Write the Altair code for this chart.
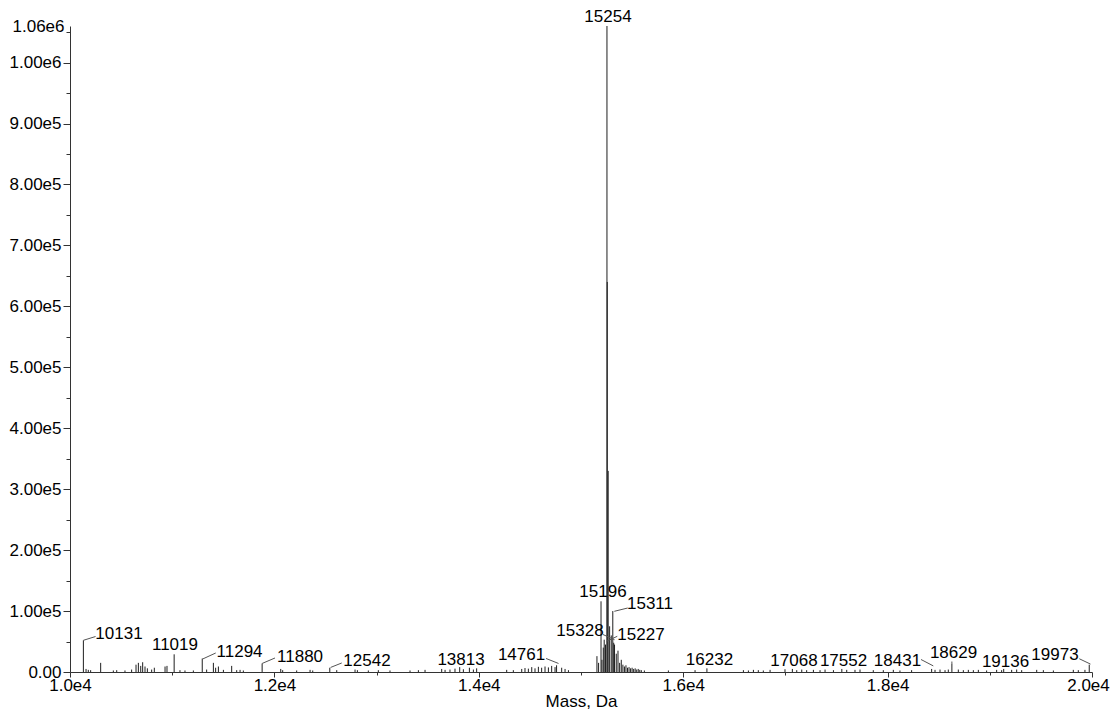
import altair as alt
import pandas as pd

# ---- spectrum peaks (mass in Da, intensity in counts) ----
peak_mass = [
    10131, 10157, 10179, 10202, 10300, 10424, 10457, 10538, 10603, 10646,
    10669, 10692, 10711, 10734, 10757, 10799, 10825, 10930, 10949, 11019,
    11076, 11125, 11207, 11294, 11337, 11403, 11425, 11452, 11501, 11582,
    11631, 11664, 11696, 11880, 12062, 12081, 12218, 12349, 12375, 12542,
    12610, 12789, 12812, 12919, 13017, 13131, 13327, 13409, 13474, 13637,
    13670, 13718, 13767, 13813, 13849, 13908, 13947, 13979, 14273, 14338,
    14420, 14452, 14485, 14518, 14550, 14583, 14615, 14648, 14681, 14713,
    14746, 14761, 14811, 14844, 14877,
    15156, 15172, 15196, 15205, 15218, 15227, 15240, 15254, 15257, 15266,
    15280, 15296, 15311, 15320, 15328, 15345, 15362, 15378, 15394, 15410,
    15425, 15440, 15455, 15470, 15485, 15500, 15515, 15530, 15545, 15560,
    15575, 15590, 15620,
    15855, 16116, 16232, 16589, 16638, 16687, 16735, 16784, 16850, 16996,
    17068, 17111, 17160, 17208, 17274, 17339, 17388, 17470, 17552, 17600,
    17681, 17730, 17860, 17958, 18056, 18121, 18235, 18431, 18464, 18513,
    18562, 18594, 18629, 18692, 18741, 18790, 18839, 18888, 18969, 19067,
    19116, 19136, 19214, 19263, 19312, 19459, 19524, 19622, 19817, 19866,
    19931, 19973,
]
peak_intensity = [
    52000, 5000, 3500, 3000, 15000, 2500, 3000, 2500, 4000, 12000,
    15000, 10000, 16000, 9000, 6000, 4000, 7000, 9000, 10000, 29000,
    3000, 2500, 2500, 22000, 4000, 15000, 7000, 9000, 3500, 10000,
    3000, 3500, 2500, 14000, 5000, 3000, 2500, 3500, 2500, 7000,
    3000, 4000, 3000, 2500, 3000, 2500, 2500, 3000, 3500, 5000,
    3500, 4000, 5500, 8000, 4500, 7000, 4000, 6000, 3500, 3000,
    5000, 6500, 5500, 8000, 6000, 8500, 7000, 9000, 7500, 10000,
    8000, 11000, 7000, 5000, 3000,
    26000, 15000, 116000, 20000, 40000, 53000, 45000, 1060000, 640000, 330000,
    75000, 60000, 100000, 48000, 45000, 30000, 35000, 15000, 20000, 12000,
    9000, 11000, 7000, 8000, 6000, 7000, 5000, 6000, 4000, 5000,
    3500, 3000, 2500,
    2500, 3000, 6000, 3000, 2500, 3500, 3000, 2500, 3500, 4500,
    5000, 3000, 4000, 3000, 3500, 3000, 4000, 3000, 5000, 3500,
    3500, 4000, 3000, 3000, 3500, 2500, 3000, 5000, 3500, 4000,
    3000, 4000, 14000, 4000, 3000, 3500, 3000, 3500, 2500, 3500,
    3000, 5000, 3500, 4000, 3000, 3500, 3000, 2500, 3500, 3000,
    3500, 12000,
]

# ---- peak annotations (anchor in data units) ----
label_text = ["10131", "11019", "11294", "11880", "12542", "13813", "14761",
              "15196", "15311", "15328", "15227", "15254", "16232", "17068",
              "17552", "18431", "18629", "19136", "19973"]
label_mass = [10479, 11027, 11659, 12251, 12906, 13826, 14418,
              15215, 15675, 14990, 15587, 15264, 16257, 17084,
              17569, 18097, 18645, 19154, 19638]
label_intensity = [63000, 43500, 33600, 25400, 18000, 20500, 28700,
                   130500, 111600, 67000, 61500, 1074000, 20500, 17700,
                   17700, 17700, 30400, 16100, 28700]

# ---- leader lines from peak to label ----
leader_mass_a = [10131, 11294, 11880, 12550, 14780, 15328, 15251, 15326, 18447, 18629, 19985]
leader_int_a = [52000, 21000, 14000, 7500, 14000, 53000, 50400, 99600, 10000, 14000, 13000]
leader_mass_b = [10250, 11426, 12006, 12659, 14658, 15215, 15355, 15457, 18327, 18629, 19876]
leader_int_b = [58200, 31200, 23000, 14800, 22200, 61500, 58600, 105000, 20500, 17200, 21700]

x_ticks = list(range(10000, 20001, 1000))
y_ticks = list(range(0, 1050001, 50000)) + [1060000]

peaks_df = pd.DataFrame({"mass": peak_mass, "intensity": peak_intensity})
labels_df = pd.DataFrame({"mass": label_mass, "intensity": label_intensity, "label": label_text})
leaders_df = pd.DataFrame({"mass": leader_mass_a, "intensity": leader_int_a,
                           "mass2": leader_mass_b, "intensity2": leader_int_b})

FONT = "Liberation Sans"

x_scale = alt.Scale(domain=[10000, 20000], nice=False, zero=False)
y_scale = alt.Scale(domain=[0, 1060000], nice=False)

x_axis = alt.Axis(
    values=x_ticks,
    labelExpr="datum.value % 2000 === 0 ? replace(format(datum.value, '.1e'), '+', '') : ''",
    tickSize={"condition": {"test": "datum.value % 2000 === 0", "value": 5}, "value": 3},
    labelOffset={"condition": {"test": "datum.value === 20000", "value": -4}, "value": 0},
    labelOverlap=False,
    labelFlush=False,
    labelPadding=0,
    grid=False,
    title="Mass, Da",
    titlePadding=0,
)
y_axis = alt.Axis(
    values=y_ticks,
    labelExpr="datum.value === 0 ? '0.00' : ((datum.value % 100000 === 0 || datum.value === 1060000) ? replace(format(datum.value, '.2e'), '+', '') : '')",
    tickSize={"condition": {"test": "datum.value % 100000 === 0", "value": 7}, "value": 4},
    tickOpacity={"condition": {"test": "datum.value === 1060000", "value": 0}, "value": 1},
    labelOverlap=False,
    labelPadding=2,
    grid=False,
    title=None,
)

peaks = alt.Chart(peaks_df).mark_rule(color="#1f1f1f", strokeWidth=1).encode(
    x=alt.X("mass:Q", scale=x_scale, axis=x_axis),
    y=alt.Y("intensity:Q", scale=y_scale, axis=y_axis),
    y2=alt.datum(0),
)

leaders = alt.Chart(leaders_df).mark_rule(color="#555555", strokeWidth=1).encode(
    x=alt.X("mass:Q", scale=x_scale, axis=x_axis),
    y=alt.Y("intensity:Q", scale=y_scale, axis=y_axis),
    x2="mass2:Q",
    y2="intensity2:Q",
)

labels = alt.Chart(labels_df).mark_text(
    font=FONT, fontSize=17, color="black", align="center", baseline="middle"
).encode(
    x=alt.X("mass:Q", scale=x_scale, axis=x_axis),
    y=alt.Y("intensity:Q", scale=y_scale, axis=y_axis),
    text="label:N",
)

chart = alt.layer(peaks, leaders, labels).properties(
    width=1022,
    height=646,
    autosize=alt.AutoSizeParams(type="none"),
    padding={"left": 62, "top": 18, "right": 18, "bottom": 38},
    background="white",
).configure_view(stroke=None).configure_axis(
    labelFont=FONT,
    labelFontSize=17,
    labelColor="black",
    titleFont=FONT,
    titleFontSize=17,
    titleFontWeight="normal",
    titleColor="black",
    domainColor="#333333",
    tickColor="#333333",
)

chart.save("out.html", embed_options={"renderer": "svg", "actions": False})
